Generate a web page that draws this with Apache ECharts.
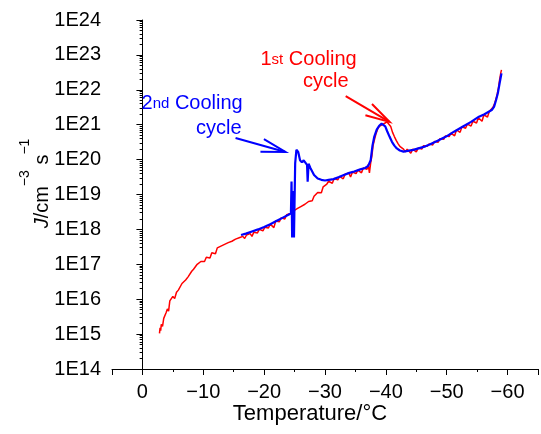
<!DOCTYPE html>
<html><head><meta charset="utf-8">
<script src="https://cdn.jsdelivr.net/npm/echarts@6/dist/echarts.min.js"></script>
<style>html,body{margin:0;padding:0;background:#fff}#c{width:541px;height:434px}</style>
</head><body><div id="c"></div>
<script>
// 1st cooling cycle (red): temperature (°C) and log10(J / cm^-3 s^-1)
const redT = [-2.8,-2.9,-3.0,-3.1,-3.3,-3.5,-3.7,-3.9,-4.1,-4.3,-4.5,-4.7,-5.0,-5.3,-5.6,-5.9,-6.2,-6.5,-6.8,-7.1,-7.5,-7.8,-8.1,-8.4,-8.7,-9.0,-9.3,-9.6,-9.9,-10.2,-10.5,-10.8,-11.1,-11.4,-11.7,-12.0,-12.3,-12.6,-12.9,-13.2,-13.5,-13.8,-14.1,-14.4,-14.7,-15.0,-15.3,-15.6,-15.9,-16.2,-16.5,-16.8,-17.1,-17.4,-17.7,-18.0,-18.3,-18.6,-18.9,-19.2,-19.5,-19.8,-20.1,-20.4,-20.7,-21.0,-21.3,-21.6,-21.9,-22.2,-22.5,-22.8,-23.1,-23.4,-23.7,-24.0,-24.3,-24.6,-24.9,-25.2,-25.5,-25.8,-26.1,-26.4,-26.7,-27.0,-27.3,-27.6,-27.9,-28.2,-28.5,-28.8,-29.1,-29.4,-29.7,-30.0,-30.3,-30.6,-30.9,-31.2,-31.5,-31.8,-32.1,-32.4,-32.7,-33.0,-33.3,-33.6,-33.9,-34.2,-34.5,-34.8,-35.1,-35.4,-35.7,-36.0,-36.3,-36.6,-36.9,-37.1,-37.3,-37.5,-37.7,-37.9,-38.1,-38.4,-38.7,-39.0,-39.3,-39.6,-39.9,-40.2,-40.5,-40.8,-41.1,-41.4,-41.7,-42.0,-42.3,-42.6,-42.9,-43.2,-43.5,-43.8,-44.1,-44.4,-44.7,-45.0,-45.3,-45.6,-45.9,-46.2,-46.5,-46.8,-47.1,-47.4,-47.7,-48.0,-48.3,-48.6,-48.9,-49.2,-49.5,-49.8,-50.1,-50.4,-50.7,-51.0,-51.3,-51.6,-51.9,-52.2,-52.5,-52.8,-53.1,-53.4,-53.7,-54.0,-54.3,-54.6,-54.9,-55.2,-55.5,-55.8,-56.1,-56.4,-56.7,-57.0,-57.3,-57.6,-57.9,-58.2,-58.5,-58.7,-58.9,-59.0];
const redLogJ = [15.02,15.18,15.10,15.28,15.22,15.45,15.40,15.62,15.72,15.66,15.95,15.90,16.08,16.02,16.20,16.26,16.22,16.45,16.42,16.55,16.64,16.60,16.80,16.86,16.82,17.00,16.96,17.08,17.12,17.08,17.20,17.22,17.18,17.33,17.36,17.30,17.47,17.44,17.52,17.50,17.57,17.52,17.62,17.60,17.66,17.62,17.72,17.70,17.76,17.72,17.80,17.74,17.84,17.82,17.88,17.80,17.92,17.94,17.90,18.00,18.02,17.96,18.06,18.10,18.04,18.15,18.18,18.05,18.24,18.28,18.22,18.33,18.36,18.30,18.42,18.40,18.46,18.44,18.54,18.50,18.60,18.58,18.66,18.62,18.72,18.70,18.80,18.84,18.82,18.95,18.92,19.06,19.10,19.05,19.22,19.25,19.30,19.38,19.40,19.32,19.46,19.48,19.42,19.52,19.54,19.45,19.58,19.56,19.62,19.50,19.64,19.66,19.60,19.70,19.72,19.62,19.76,19.78,19.72,19.86,19.62,19.90,20.10,20.40,20.55,20.75,20.90,20.96,21.00,21.02,21.06,21.08,21.10,20.95,20.78,20.66,20.55,20.46,20.38,20.33,20.30,20.22,20.30,20.28,20.18,20.30,20.32,20.22,20.33,20.36,20.30,20.40,20.42,20.38,20.45,20.48,20.42,20.52,20.54,20.50,20.60,20.62,20.58,20.68,20.70,20.66,20.76,20.78,20.68,20.85,20.86,20.78,20.94,20.96,20.90,21.02,21.04,20.96,21.10,21.12,21.05,21.20,21.22,21.10,21.28,21.30,21.22,21.38,21.42,21.50,21.62,21.80,22.05,22.30,22.50,22.57];
// 2nd cooling cycle (blue)
const blueT = [-16.2,-17,-18,-19,-20,-21,-22,-23,-24,-24.4,-24.5,-24.6,-24.75,-24.9,-25.1,-25.3,-25.6,-25.9,-26.2,-26.5,-26.8,-27.05,-27.15,-27.3,-27.6,-28.2,-28.8,-29.4,-30.0,-30.6,-31.4,-32.3,-33.1,-34.0,-34.8,-35.8,-36.6,-37.1,-37.5,-37.8,-38.1,-38.5,-38.9,-39.3,-39.6,-39.9,-40.2,-40.6,-41.0,-41.4,-41.8,-42.3,-42.9,-43.6,-44.5,-45.5,-46.5,-47.2,-48.5,-49.9,-51.2,-52.6,-54.0,-55.3,-56.2,-56.9,-57.4,-57.8,-58.1,-58.4,-58.7,-59.0];
const blueLogJ = [17.84,17.88,17.94,18.00,18.07,18.15,18.24,18.33,18.42,18.46,19.37,17.77,19.10,17.77,19.90,20.28,20.22,19.98,19.92,19.98,19.95,19.85,19.37,19.88,19.76,19.56,19.46,19.42,19.40,19.42,19.44,19.50,19.56,19.62,19.66,19.72,19.76,19.82,19.98,20.40,20.66,20.86,20.97,21.03,21.04,20.95,20.82,20.66,20.51,20.40,20.32,20.26,20.23,20.25,20.28,20.33,20.38,20.43,20.54,20.66,20.80,20.94,21.08,21.23,21.30,21.37,21.42,21.52,21.70,21.90,22.19,22.47];

// annotation anchors in data space [T, log10 J]
const redLabelLines = ['{a|1}{b|st}{a| Cooling}', '{a|cycle}'];
const redLabelAnchors = [[-19.4, 22.91], [-26.4, 22.28]];
const blueLabelLines = ['{a|2}{b|nd}{a| Cooling}', '{a|cycle}'];
const blueLabelAnchors = [[0.15, 21.65], [-8.8, 20.93]];
const redArrow = [[-33.4, 21.82], [-40.6, 21.08]];
const blueArrow = [[-15.3, 20.62], [-23.5, 20.22]];

const FONT = '"Liberation Sans", Arial, Helvetica, sans-serif';
const toPairs = (T, L) => T.map((t, i) => [t, Math.pow(10, L[i])]);

// log-spaced minor tick positions (2..9 per decade) for the y axis
const minorY = [];
for (let e = 14; e < 24; e++) for (let k = 2; k <= 9; k++) minorY.push(k * Math.pow(10, e));

const gridBox = {left: 112, right: 0, top: 20, bottom: 65, containLabel: false};
const chart = echarts.init(document.getElementById('c'), null, {renderer: 'canvas'});
const option = {
  animation: false,
  backgroundColor: '#fff',
  textStyle: {fontFamily: FONT},
  grid: [Object.assign({}, gridBox), Object.assign({}, gridBox)],
  xAxis: [{
    gridIndex: 0, type: 'value', inverse: true, min: -65, max: 5,
    axisLine: {show: true, onZero: false, lineStyle: {color: '#000', width: 1}},
    axisTick: {show: true, length: 6, lineStyle: {color: '#000'}},
    minorTick: {show: true, splitNumber: 2, length: 3, lineStyle: {color: '#000'}},
    splitLine: {show: false},
    axisLabel: {color: '#000', fontSize: 20, fontFamily: FONT, margin: 13, showMinLabel: true, showMaxLabel: true,
      formatter: v => (Math.abs(v % 10) < 1e-9 && v <= 0) ? (v === 0 ? '0' : '\u2212' + Math.abs(v)) : ''},
    name: 'Temperature/°C', nameLocation: 'middle', nameGap: 34, nameMoveOverlap: false,
    nameTextStyle: {color: '#000', fontSize: 22, fontFamily: FONT, padding: [0, 30, 0, 0]}
  }, {
    gridIndex: 1, type: 'value', inverse: true, min: -65, max: 5, show: false
  }],
  yAxis: [{
    gridIndex: 0, type: 'log', logBase: 10, min: 1e14, max: 1e24, interval: 1, position: 'left',
    axisLine: {show: true, lineStyle: {color: '#000', width: 1}},
    axisTick: {show: true, length: 6, lineStyle: {color: '#000'}},
    splitLine: {show: false},
    axisLabel: {color: '#000', fontSize: 20, fontFamily: FONT, margin: 11,
      formatter: v => '1E' + Math.round(Math.log10(v))},
    name: '{i|J}{n|/cm}{s|\u22123}{n| s}{s|\u22121}', nameLocation: 'middle', nameRotate: 90, nameGap: 60,
    nameMoveOverlap: false,
    nameTextStyle: {color: '#000', fontFamily: FONT, fontSize: 20, padding: [0, 0, 0, 22],
      rich: {
        i: {fontStyle: 'italic', fontSize: 20, fontFamily: FONT, color: '#000', verticalAlign: 'bottom', lineHeight: 34},
        n: {fontSize: 20, fontFamily: FONT, color: '#000', verticalAlign: 'bottom', lineHeight: 34},
        s: {fontSize: 14, fontFamily: FONT, color: '#000', verticalAlign: 'top', lineHeight: 16}
      }}
  }, {
    gridIndex: 1, type: 'log', logBase: 10, min: 1e14, max: 1e24, position: 'left', offset: 0,
    axisLine: {show: false},
    axisTick: {show: true, length: 3, customValues: minorY, lineStyle: {color: '#000'}},
    axisLabel: {show: false},
    splitLine: {show: false}
  }],
  series: [
    {type: 'line', name: '1st', xAxisIndex: 0, yAxisIndex: 0, data: toPairs(redT, redLogJ), showSymbol: false, symbol: 'none',
      lineStyle: {color: '#ff0000', width: 1.5}, itemStyle: {color: '#ff0000'}, z: 2},
    {type: 'line', name: '2nd', xAxisIndex: 0, yAxisIndex: 0, data: toPairs(blueT, blueLogJ), showSymbol: false, symbol: 'none',
      lineStyle: {color: '#0000ff', width: 2.2}, itemStyle: {color: '#0000ff'}, z: 3}
  ]
};
chart.setOption(option);

const px = a => chart.convertToPixel({gridIndex: 0}, [a[0], Math.pow(10, a[1])]);
function arrowGraphics(arr, color) {
  const p0 = px(arr[0]), p1 = px(arr[1]);
  const ang = Math.atan2(p1[1] - p0[1], p1[0] - p0[0]);
  const L = 25, h = 15 * Math.PI / 180;
  const a1 = [p1[0] - L * Math.cos(ang - h), p1[1] - L * Math.sin(ang - h)];
  const a2 = [p1[0] - L * Math.cos(ang + h), p1[1] - L * Math.sin(ang + h)];
  return [
    {type: 'polyline', shape: {points: [p0, p1]}, style: {stroke: color, lineWidth: 2, fill: null}, z: 10},
    {type: 'polyline', shape: {points: [a1, p1, a2]}, style: {stroke: color, lineWidth: 2, fill: null}, z: 10}
  ];
}
function textGraphics(lines, anchors, color) {
  return lines.map((t, i) => {
    const p = px(anchors[i]);
    return {type: 'text', x: p[0], y: p[1], z: 10,
      style: {text: t, fill: color, verticalAlign: 'middle', align: 'left', font: '20px ' + FONT,
        rich: {a: {fontSize: 20, fontFamily: FONT, fill: color, verticalAlign: 'bottom', lineHeight: 22},
               b: {fontSize: 15, fontFamily: FONT, fill: color, verticalAlign: 'bottom', lineHeight: 17, padding: [0, 0, 2, 0]}}}};
  });
}
chart.setOption({graphic: [].concat(
  arrowGraphics(redArrow, '#ff0000'), arrowGraphics(blueArrow, '#0000ff'),
  textGraphics(redLabelLines, redLabelAnchors, '#ff0000'), textGraphics(blueLabelLines, blueLabelAnchors, '#0000ff')
)});
</script></body></html>
